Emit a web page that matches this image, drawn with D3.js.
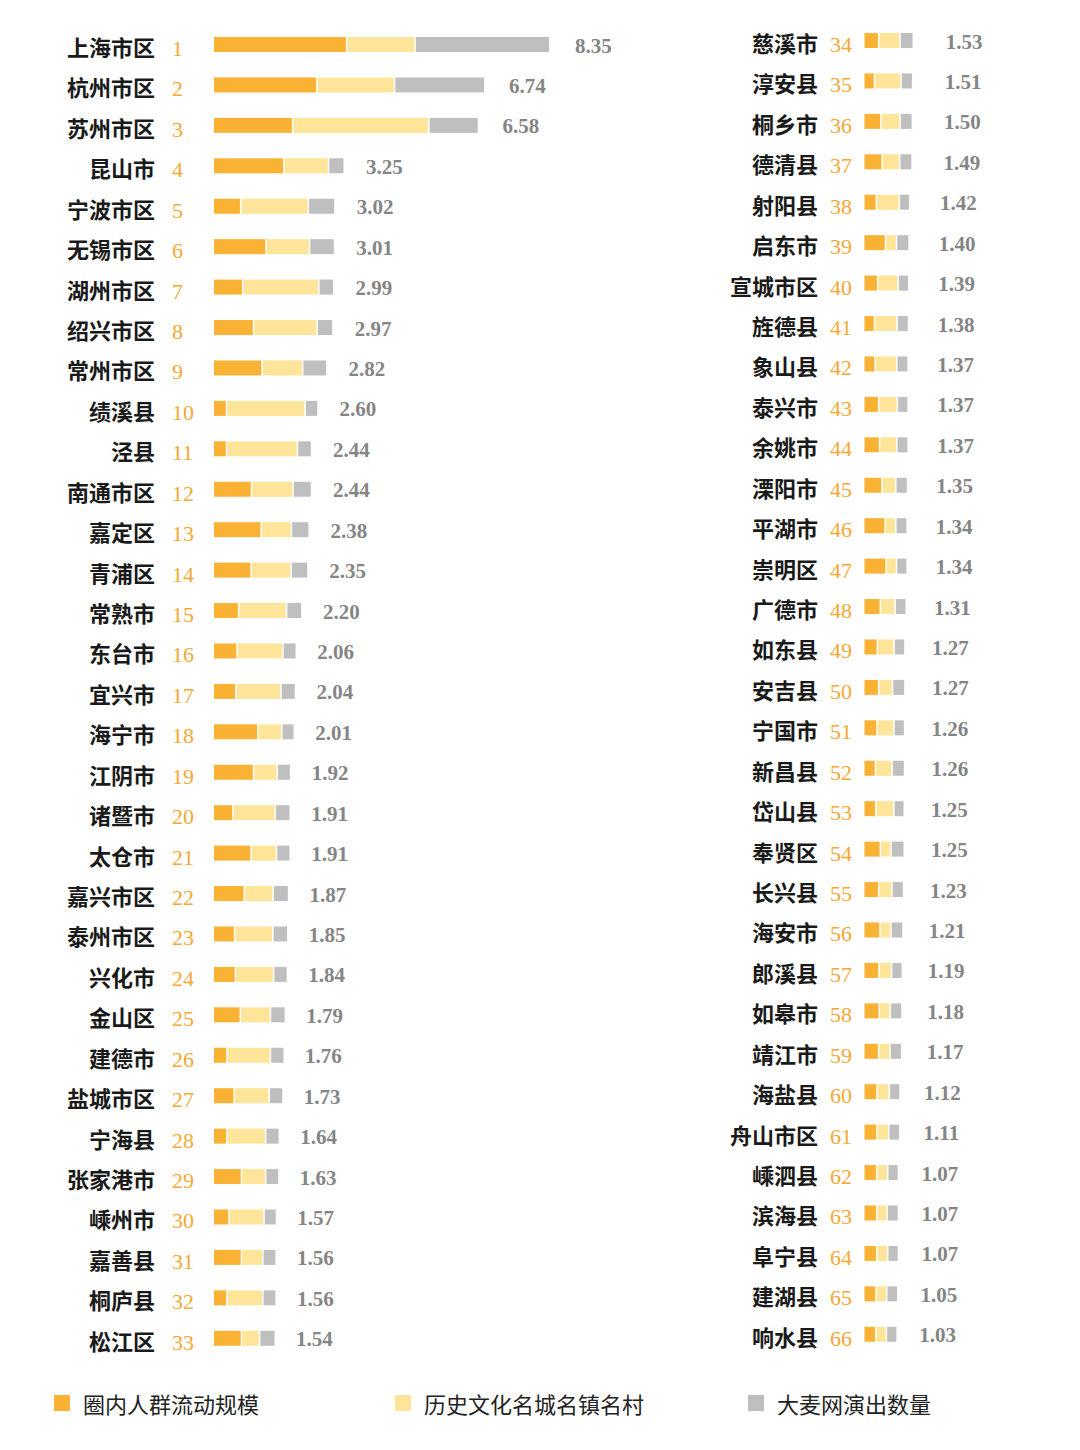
<!DOCTYPE html>
<html>
<head>
<meta charset="utf-8">
<script src="https://cdn.jsdelivr.net/npm/d3@7"></script>
<style>
  body { margin: 0; background: #fff; }
  svg { display: block; }
  .serif { font-family: "Liberation Serif", "DejaVu Serif", "Times New Roman", serif; }
</style>
</head>
<body>
<div id="chart"></div>
<script>
// city / county names, ranked
var names = ["上海市区","杭州市区","苏州市区","昆山市","宁波市区","无锡市区","湖州市区","绍兴市区","常州市区","绩溪县",
  "泾县","南通市区","嘉定区","青浦区","常熟市","东台市","宜兴市","海宁市","江阴市","诸暨市",
  "太仓市","嘉兴市区","泰州市区","兴化市","金山区","建德市","盐城市区","宁海县","张家港市","嵊州市",
  "嘉善县","桐庐县","松江区",
  "慈溪市","淳安县","桐乡市","德清县","射阳县","启东市","宣城市区","旌德县","象山县","泰兴市",
  "余姚市","溧阳市","平湖市","崇明区","广德市","如东县","安吉县","宁国市","新昌县","岱山县",
  "奉贤区","长兴县","海安市","郎溪县","如皋市","靖江市","海盐县","舟山市区","嵊泗县","滨海县",
  "阜宁县","建湖县","响水县"];

// total score shown at the end of each bar
var totals = [8.35,6.74,6.58,3.25,3.02,3.01,2.99,2.97,2.82,2.60,
  2.44,2.44,2.38,2.35,2.20,2.06,2.04,2.01,1.92,1.91,
  1.91,1.87,1.85,1.84,1.79,1.76,1.73,1.64,1.63,1.57,
  1.56,1.56,1.54,
  1.53,1.51,1.50,1.49,1.42,1.40,1.39,1.38,1.37,1.37,
  1.37,1.35,1.34,1.34,1.31,1.27,1.27,1.26,1.26,1.25,
  1.25,1.23,1.21,1.19,1.18,1.17,1.12,1.11,1.07,1.07,
  1.07,1.05,1.03];

// 圈内人群流动规模
var flow = [3.31,2.57,1.97,1.75,0.68,1.31,0.73,1.00,1.21,0.33,
  0.33,0.95,1.19,0.94,0.63,0.59,0.56,1.11,1.00,0.49,
  0.94,0.77,0.53,0.55,0.67,0.34,0.52,0.34,0.70,0.39,
  0.70,0.34,0.70,
  0.46,0.33,0.53,0.57,0.39,0.67,0.43,0.33,0.35,0.46,
  0.49,0.56,0.66,0.69,0.51,0.42,0.46,0.41,0.36,0.37,
  0.51,0.46,0.50,0.47,0.48,0.46,0.41,0.41,0.40,0.40,
  0.40,0.38,0.37];

// 历史文化名城名镇名村
var heritage = [1.70,1.93,3.38,1.11,1.68,1.08,1.89,1.58,1.01,1.95,
  1.76,1.03,0.75,0.99,1.19,1.14,1.12,0.59,0.59,1.05,
  0.63,0.72,0.95,0.95,0.75,1.08,0.87,0.96,0.60,0.87,
  0.53,0.89,0.45,
  0.66,0.82,0.59,0.54,0.71,0.34,0.63,0.70,0.67,0.58,
  0.53,0.43,0.33,0.32,0.46,0.52,0.43,0.52,0.52,0.56,
  0.33,0.41,0.34,0.39,0.34,0.35,0.38,0.36,0.34,0.32,
  0.34,0.33,0.33];

// 大麦网演出数量
var shows = [3.34,2.24,1.23,0.39,0.66,0.62,0.37,0.39,0.60,0.32,
  0.35,0.46,0.44,0.42,0.38,0.33,0.36,0.31,0.33,0.37,
  0.34,0.38,0.37,0.34,0.37,0.34,0.34,0.34,0.33,0.31,
  0.33,0.33,0.39,
  0.41,0.36,0.38,0.38,0.32,0.39,0.33,0.35,0.35,0.33,
  0.35,0.36,0.35,0.33,0.34,0.33,0.38,0.33,0.38,0.32,
  0.41,0.36,0.37,0.33,0.36,0.36,0.33,0.34,0.33,0.35,
  0.33,0.34,0.33];

var seriesNames = ["圈内人群流动规模","历史文化名城名镇名村","大麦网演出数量"];
var colors = ["#F9B233","#FFE599","#BFBFBF"];

var width = 1080, height = 1450;
var svg = d3.select("#chart").append("svg")
    .attr("width", width)
    .attr("height", height);

var rows = names.map(function(n, i) {
  return { name: n, rank: i + 1, total: totals[i], flow: flow[i], heritage: heritage[i], shows: shows[i] };
});

var stack = d3.stack().keys(["flow","heritage","shows"]);

// two columns, each with its own bar and label scale (as in the original)
var columns = [
  { data: rows.slice(0, 33), x0: 214, pxPerUnit: 40.3, nameX: 155, rankX: 172,
    labelDomain: [0, 8.35], labelRange: [233, 575], yTop: 24.3 },
  { data: rows.slice(33), x0: 864.5, pxPerUnit: 32.4, nameX: 818, rankX: 830,
    labelDomain: [0, 1.53], labelRange: [865, 945.7], yTop: 20.3 }
];

var barH = 15;

columns.forEach(function(col) {
  var g = svg.append("g");
  var x = d3.scaleLinear().domain([0, 1]).range([col.x0, col.x0 + col.pxPerUnit]);
  var xLabel = d3.scaleLinear().domain(col.labelDomain).range(col.labelRange);
  var y = d3.scaleBand()
      .domain(col.data.map(function(d) { return d.name; }))
      .range([col.yTop, col.yTop + col.data.length * 40.43])
      .padding(0);
  var mid = function(d) { return y(d.name) + y.bandwidth() / 2; };

  var layers = stack(col.data);
  g.selectAll("g.layer")
    .data(layers)
    .join("g")
      .attr("class", "layer")
      .attr("fill", function(d, i) { return colors[i]; })
    .selectAll("rect")
    .data(function(d) { return d; })
    .join("rect")
      .attr("x", function(d) { return x(d[0]); })
      .attr("y", function(d) { return mid(d.data) - barH / 2; })
      .attr("width", function(d) { return Math.max(0, x(d[1]) - x(d[0]) - 1.5); })
      .attr("height", barH);

  g.selectAll("text.name")
    .data(col.data)
    .join("text")
      .attr("class", "name")
      .attr("x", col.nameX)
      .attr("y", function(d) { return mid(d) + 1.5; })
      .attr("text-anchor", "end")
      .attr("dominant-baseline", "central")
      .style("font-family", "'Noto Sans CJK SC', sans-serif")
      .style("font-weight", "700")
      .style("font-size", "22px")
      .style("fill", "#1a1a1a")
      .text(function(d) { return d.name; });

  g.selectAll("text.rank")
    .data(col.data)
    .join("text")
      .attr("class", "rank serif")
      .attr("x", col.rankX)
      .attr("y", function(d) { return mid(d) + 4; })
      .attr("dominant-baseline", "central")
      .style("font-size", "22px")
      .style("fill", "#F6A833")
      .text(function(d) { return d.rank; });

  g.selectAll("text.total")
    .data(col.data)
    .join("text")
      .attr("class", "total serif")
      .attr("x", function(d) { return xLabel(d.total); })
      .attr("y", function(d) { return mid(d) + 1; })
      .attr("dominant-baseline", "central")
      .style("font-size", "21px")
      .style("font-weight", "700")
      .style("fill", "#858585")
      .text(function(d) { return d.total.toFixed(2); });
});

// legend
var legendX = [54, 395, 748];
var legend = svg.append("g").selectAll("g")
  .data(seriesNames)
  .join("g")
    .attr("transform", function(d, i) { return "translate(" + legendX[i] + ",1395)"; });
legend.append("rect")
    .attr("width", 16)
    .attr("height", 16)
    .attr("fill", function(d, i) { return colors[i]; });
legend.append("text")
    .attr("x", 29)
    .attr("y", 8)
    .attr("dominant-baseline", "central")
    .style("font-family", "'Noto Sans CJK SC', sans-serif")
    .style("font-size", "22px")
    .style("fill", "#222")
    .text(function(d) { return d; });
</script>
</body>
</html>
